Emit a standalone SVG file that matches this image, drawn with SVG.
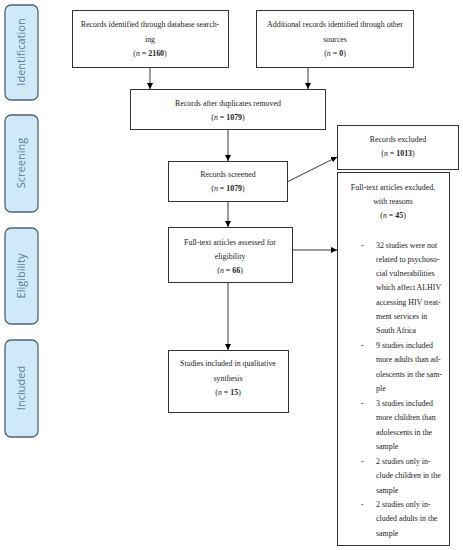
<svg xmlns="http://www.w3.org/2000/svg" width="463" height="550" viewBox="0 0 463 550">
<defs>
<marker id="ah" viewBox="0 0 10 10" refX="10" refY="5" markerWidth="6" markerHeight="6" orient="auto" markerUnits="userSpaceOnUse">
<path d="M0,0 L10,5 L0,10 z" fill="#000"/>
</marker>
<style>
.stage{fill:#cfe9f9;stroke:#4f6272;stroke-width:1.3}
.stxt{font-family:"Open Sans","DejaVu Sans",sans-serif;font-size:11px;fill:#5b7f9c;text-anchor:middle}
.box{fill:#fff;stroke:#333;stroke-width:1}
.t{font-family:"Liberation Serif","DejaVu Serif",serif;font-size:7.9px;fill:#222;text-anchor:middle}
.l{font-family:"Liberation Serif","DejaVu Serif",serif;font-size:7.9px;fill:#222}
.b{font-weight:bold}
.c{stroke:#222;stroke-width:0.9;fill:none;marker-end:url(#ah)}
</style>
</defs>
<rect width="463" height="550" fill="#fff"/>
<g id="stage-identification"><rect class="stage" x="5" y="5" width="33" height="95" rx="6"/><text class="stxt" transform="translate(25,52) rotate(-90)">Identification</text></g>
<g id="stage-screening"><rect class="stage" x="5" y="115" width="33" height="97" rx="6"/><text class="stxt" transform="translate(25,163) rotate(-90)">Screening</text></g>
<g id="stage-eligibility"><rect class="stage" x="5" y="228" width="33" height="96" rx="6"/><text class="stxt" transform="translate(25,276) rotate(-90)">Eligibility</text></g>
<g id="stage-included"><rect class="stage" x="5" y="340" width="33" height="97" rx="6"/><text class="stxt" transform="translate(25,388) rotate(-90)">Included</text></g>

<g id="connectors">
<line class="c" x1="150" y1="67" x2="150" y2="89"/>
<line class="c" x1="308" y1="67" x2="308" y2="89"/>
<line class="c" x1="228" y1="129" x2="228" y2="161"/>
<line class="c" x1="287" y1="182" x2="337" y2="157"/>
<line class="c" x1="228" y1="201" x2="228" y2="227"/>
<line class="c" x1="292" y1="250" x2="337" y2="250"/>
<line class="c" x1="228" y1="282" x2="228" y2="350"/>
</g>

<g id="n-database"><rect class="box" x="72.5" y="10.5" width="156" height="57"/>
<text class="t" x="150" y="27">Records identified through database search-</text>
<text class="t" x="150" y="42">ing</text>
<text class="t" x="150" y="56">(<tspan font-style="italic">n</tspan> = <tspan class="b">2160</tspan>)</text></g>

<g id="n-other"><rect class="box" x="256.5" y="10.5" width="157" height="57"/>
<text class="t" x="335" y="27">Additional records identified through other</text>
<text class="t" x="335" y="42">sources</text>
<text class="t" x="335" y="56">(<tspan font-style="italic">n</tspan> = <tspan class="b">0</tspan>)</text></g>

<g id="n-duplicates"><rect class="box" x="130.5" y="89.5" width="195" height="40"/>
<text class="t" x="228" y="106">Records after duplicates removed</text>
<text class="t" x="228" y="120">(<tspan font-style="italic">n</tspan> = <tspan class="b">1079</tspan>)</text></g>

<g id="n-screened"><rect class="box" x="168.5" y="161.5" width="119" height="40"/>
<text class="t" x="228" y="177">Records screened</text>
<text class="t" x="228" y="191">(<tspan font-style="italic">n</tspan> = <tspan class="b">1079</tspan>)</text></g>

<g id="n-excluded"><rect class="box" x="337.5" y="125.5" width="121" height="44"/>
<text class="t" x="398" y="142">Records excluded</text>
<text class="t" x="398" y="156">(<tspan font-style="italic">n</tspan> = <tspan class="b">1013</tspan>)</text></g>

<g id="n-fulltext"><rect class="box" x="168.5" y="227.5" width="124" height="55"/>
<text class="t" x="230" y="245">Full-text articles assessed for</text>
<text class="t" x="230" y="259">eligibility</text>
<text class="t" x="230" y="273">(<tspan font-style="italic">n</tspan> = <tspan class="b">66</tspan>)</text></g>

<g id="n-ftexcluded"><rect class="box" x="337.5" y="172.5" width="112" height="373"/>
<text class="t" x="393" y="190">Full-text articles excluded,</text>
<text class="t" x="393" y="204">with reasons</text>
<text class="t" x="393" y="218">(<tspan font-style="italic">n</tspan> = <tspan class="b">45</tspan>)</text>
<text class="l" x="361" y="248">-</text>
<text class="l" x="376" y="248">32 studies were not</text>
<text class="l" x="376" y="262">related to psychoso-</text>
<text class="l" x="376" y="276">cial vulnerabilities</text>
<text class="l" x="376" y="290">which affect ALHIV</text>
<text class="l" x="376" y="305">accessing HIV treat-</text>
<text class="l" x="376" y="319">ment services in</text>
<text class="l" x="376" y="333">South Africa</text>
<text class="l" x="361" y="348">-</text>
<text class="l" x="376" y="348">9 studies included</text>
<text class="l" x="376" y="362">more adults than ad-</text>
<text class="l" x="376" y="377">olescents in the sam-</text>
<text class="l" x="376" y="391">ple</text>
<text class="l" x="361" y="406">-</text>
<text class="l" x="376" y="406">3 studies included</text>
<text class="l" x="376" y="420">more children than</text>
<text class="l" x="376" y="435">adolescents in the</text>
<text class="l" x="376" y="449">sample</text>
<text class="l" x="361" y="464">-</text>
<text class="l" x="376" y="464">2 studies only in-</text>
<text class="l" x="376" y="478">clude children in the</text>
<text class="l" x="376" y="493">sample</text>
<text class="l" x="361" y="507">-</text>
<text class="l" x="376" y="507">2 studies only in-</text>
<text class="l" x="376" y="521">cluded adults in the</text>
<text class="l" x="376" y="536">sample</text></g>

<g id="n-included"><rect class="box" x="168.5" y="350.5" width="120" height="62"/>
<text class="t" x="228" y="366">Studies included in qualitative</text>
<text class="t" x="228" y="381">synthesis</text>
<text class="t" x="228" y="395">(<tspan font-style="italic">n</tspan> = <tspan class="b">15</tspan>)</text></g>
</svg>
